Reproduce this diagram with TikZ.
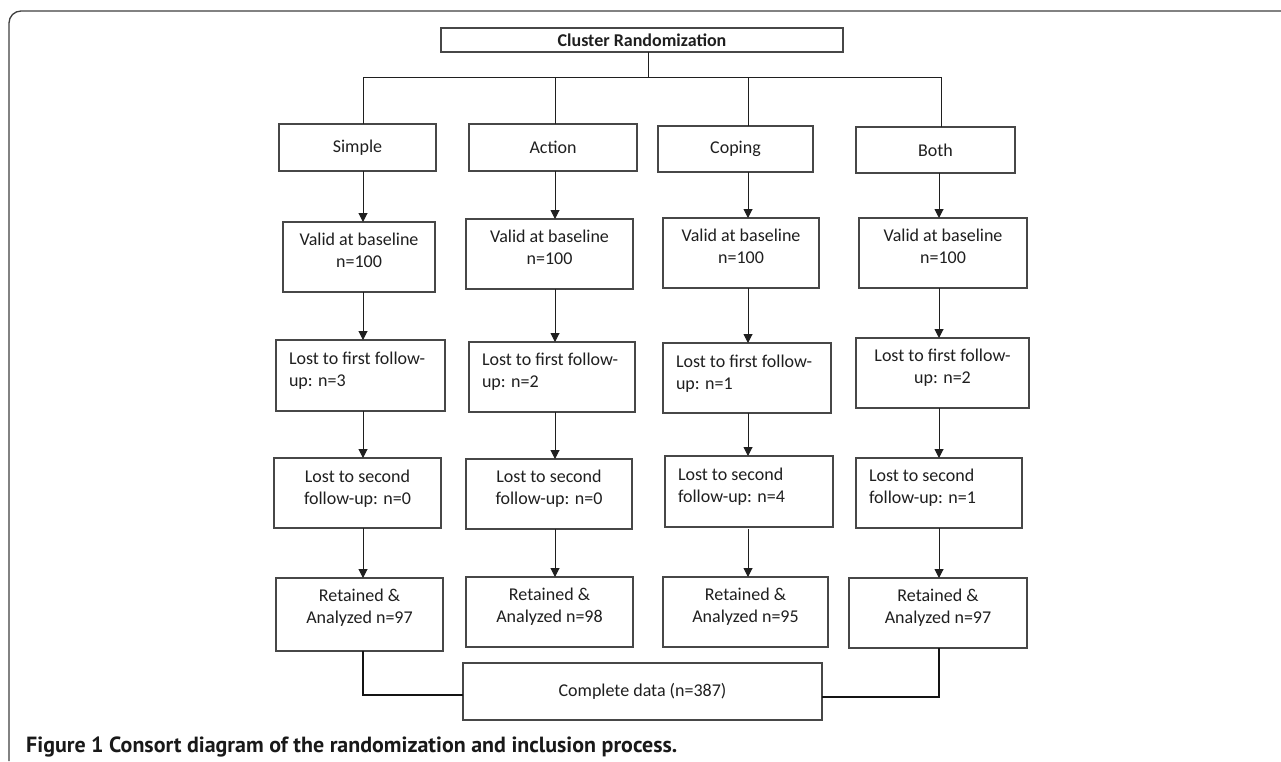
\documentclass[tikz,border=0pt]{standalone}
\usepackage{fontspec}
\setmainfont{Carlito}
\newfontfamily\capfont{PT Sans}
\usetikzlibrary{arrows.meta}
% box node: name, x1, x2, y1, y2, content
\newcommand\cbox[6]{\node[boxs,minimum width={(#3-#2)*1pt},minimum height={(#5-#4)*1pt}] (#1) at ({(#2+#3)/2},{(#4+#5)/2}) {#6};}
\begin{document}
\begin{tikzpicture}[x=1pt,y=-1pt,
  boxs/.style={draw=black!72,line width=1.1pt,inner sep=0pt,outer sep=0pt,rectangle,text=black!88,font=\fontsize{18}{22}\selectfont},
  txt/.style={inner sep=0pt,outer sep=0pt,text=black!88,font=\fontsize{18}{22}\selectfont},
  ctxt/.style={txt,align=center},
  ltxt/.style={txt,align=left,anchor=west},
  ln/.style={draw=black!88,line width=1pt},
  arr/.style={ln,-{Triangle[length=9pt,width=9pt]}},
  joinln/.style={draw=black!92,line width=2pt}
]
\useasboundingbox (0,0) rectangle (1281,761);
\fill[white] (0,0) rectangle (1281,761);
% open frame
\draw[black!75,line width=1.3pt,rounded corners=12pt] (9,761) -- (9,11) -- (1281,11);

% column coordinates
\coordinate (cS) at (363,0);
\coordinate (cA) at (555,0);
\coordinate (cC) at (748,0);
\coordinate (cB) at (939,0);
\coordinate (cBt) at (941,0);
\coordinate (hub) at (648,77);

% top
\node[boxs,font=\bfseries\fontsize{18}{22}\selectfont,minimum width=402pt,minimum height=24pt] (cr) at (642,40) {Cluster Randomization};

\cbox{simple}{279}{436}{124}{171}{Simple}
\cbox{action}{469}{637}{124}{171}{Action}
\cbox{coping}{658}{813}{126}{172}{Coping}
\cbox{both}{856}{1015}{127}{173}{Both}

% valid at baseline
\cbox{sV}{283}{435}{222}{292}{}
\cbox{aV}{466}{633}{219}{289}{}
\cbox{cV}{663}{819}{218}{288}{}
\cbox{bV}{859}{1027}{218}{288}{}
\node[ctxt] (sVt) at (359,252.5) {\strut Valid at baseline\\\strut n=100};
\node[ctxt] (aVt) at (549.5,249.5) {\strut Valid at baseline\\\strut n=100};
\node[ctxt] (cVt) at (741,248.5) {\strut Valid at baseline\\\strut n=100};
\node[ctxt] (bVt) at (943,248.5) {\strut Valid at baseline\\\strut n=100};

% lost to first follow-up
\cbox{sF}{276}{445}{340}{411}{}
\cbox{aF}{469}{635}{342}{412}{}
\cbox{cF}{663}{831}{343}{413}{}
\cbox{bF}{856}{1029}{338}{408}{}
\node[ltxt] (sFt) at (289,371.5) {\strut Lost to first follow-\\\strut up: n=3};
\node[ltxt] (aFt) at (482,372.5) {\strut Lost to first follow-\\\strut up: n=2};
\node[ltxt] (cFt) at (676,374.5) {\strut Lost to first follow-\\\strut up: n=1};
\node[ctxt] (bFt) at (942.5,368.5) {\strut Lost to first follow-\\\strut up: n=2};

% lost to second follow-up
\cbox{sL}{274}{441}{458}{528}{}
\cbox{aL}{466}{632}{459}{529}{}
\cbox{cL}{665}{833}{456}{527}{}
\cbox{bL}{856}{1022}{458}{528}{}
\node[ctxt] (sLt) at (357.5,489.5) {\strut Lost to second\\\strut follow-up: n=0};
\node[ctxt] (aLt) at (549,489.5) {\strut Lost to second\\\strut follow-up: n=0};
\node[ltxt] (cLt) at (678,487) {\strut Lost to second\\\strut follow-up: n=4};
\node[ltxt] (bLt) at (869,488.5) {\strut Lost to second\\\strut follow-up: n=1};

% retained
\cbox{sR}{276}{443}{578}{651}{}
\cbox{aR}{466}{633}{577}{647}{}
\cbox{cR}{663}{828}{577}{647}{}
\cbox{bR}{849}{1027}{578}{648}{}
\node[ctxt] (sRt) at (359.5,608.5) {\strut Retained \&\\\strut Analyzed n=97};
\node[ctxt] (aRt) at (549.5,607.5) {\strut Retained \&\\\strut Analyzed n=98};
\node[ctxt] (cRt) at (745.5,607.5) {\strut Retained \&\\\strut Analyzed n=95};
\node[ctxt] (bRt) at (938,608.5) {\strut Retained \&\\\strut Analyzed n=97};

% complete data
\cbox{complete}{463}{822}{663}{720}{Complete data (n=387)}

% randomization tree
\draw[ln] (cr.south -| hub) -- (hub);
\draw[ln] (simple.north -| cS) |- (cBt |- hub) -- (both.north -| cBt);
\draw[ln] (action.north -| cA) -- (cA |- hub);
\draw[ln] (coping.north -| cC) -- (cC |- hub);

% arrows in each column
\draw[arr] (simple.south -| cS) -- (sV.north -| cS);
\draw[arr] (sV.south -| cS) -- (sF.north -| cS);
\draw[arr] (sF.south -| cS) -- (sL.north -| cS);
\draw[arr] (sL.south -| cS) -- (sR.north -| cS);

\draw[arr] (action.south -| cA) -- (aV.north -| cA);
\draw[arr] (aV.south -| cA) -- (aF.north -| cA);
\draw[arr] (aF.south -| cA) -- (aL.north -| cA);
\draw[arr] (aL.south -| cA) -- (aR.north -| cA);

\draw[arr] (coping.south -| cC) -- (cV.north -| cC);
\draw[arr] (cV.south -| cC) -- (cF.north -| cC);
\draw[arr] (cF.south -| cC) -- (cL.north -| cC);
\draw[arr] ([yshift=-2pt]cL.south -| cC) -- (cR.north -| cC);

\draw[arr] (both.south -| cB) -- (bV.north -| cB);
\draw[arr] (bV.south -| cB) -- (bF.north -| cB);
\draw[arr] (bF.south -| cB) -- (bL.north -| cB);
\draw[arr] (bL.south -| cB) -- (bR.north -| cB);

% joins to complete data
\draw[joinln] (sR.south -| cS) |- ([yshift=-3.5pt]complete.west);
\draw[joinln] (bR.south -| cB) |- ([yshift=-5.5pt]complete.east);

% caption
\node[anchor=base west,inner sep=0pt,text=black!90] (caption) at (26,752) {\resizebox{651pt}{!}{\capfont\fontsize{18}{22}\selectfont\bfseries Figure 1 Consort diagram of the randomization and inclusion process.}};
\end{tikzpicture}
\end{document}
